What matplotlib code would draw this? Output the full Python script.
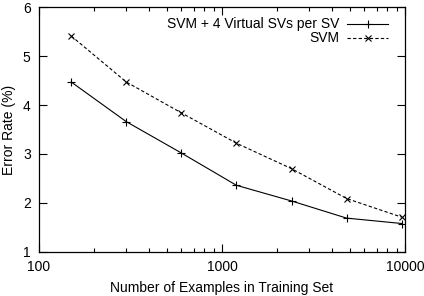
import matplotlib
matplotlib.use("Agg")
import matplotlib.pyplot as plt
from matplotlib.ticker import LogLocator, NullFormatter, FixedLocator, FixedFormatter

plt.rcParams["font.family"] = ["Liberation Sans", "DejaVu Sans"]
plt.rcParams["font.size"] = 10

train_sizes = [150, 300, 600, 1200, 2400, 4800, 9600]
err_virtual = [4.47, 3.66, 3.02, 2.36, 2.04, 1.69, 1.58]
err_svm = [5.41, 4.47, 3.84, 3.22, 2.70, 2.09, 1.71]

x_ticks = [100, 1000, 10000]
x_tick_labels = ["100", "1000", "10000"]
y_ticks = [1, 2, 3, 4, 5, 6]

fig = plt.figure(figsize=(4.24, 2.96), dpi=100)
ax = fig.add_axes([0.092, 0.149, 0.863, 0.827])

ax.plot(train_sizes, err_virtual, color="black", lw=0.8, marker="+",
        ms=6, mew=0.8, label="SVM + 4 Virtual SVs per SV")
ax.plot(train_sizes, err_svm, color="black", lw=0.8, ls=(0, (3, 2)), marker="x",
        ms=5, mew=0.8, label="SVM")

ax.set_xscale("log")
ax.set_xlim(100, 10000)
ax.set_ylim(1, 6)
ax.xaxis.set_major_locator(FixedLocator(x_ticks))
ax.xaxis.set_major_formatter(FixedFormatter(x_tick_labels))
ax.xaxis.set_minor_locator(LogLocator(base=10, subs=range(2, 10)))
ax.xaxis.set_minor_formatter(NullFormatter())
ax.set_yticks(y_ticks)

ax.tick_params(which="both", direction="in", top=True, right=True, width=0.8)
ax.tick_params(which="major", length=6)
ax.tick_params(which="minor", length=3)
ax.tick_params(axis="x", pad=6)
ax.tick_params(axis="y", pad=6)
for s in ax.spines.values():
    s.set_linewidth(0.9)

ax.set_xlabel("Number of Examples in Training Set", labelpad=5)
ax.set_ylabel("Error Rate (%)", labelpad=5)

ax.legend(loc="upper right", bbox_to_anchor=(0.9645, 0.975), markerfirst=False,
          frameon=False, handlelength=2.9, handletextpad=0.6, labelspacing=0.0,
          borderaxespad=0.0, borderpad=0.3, fontsize=10)

fig.savefig("out.png", dpi=100)
